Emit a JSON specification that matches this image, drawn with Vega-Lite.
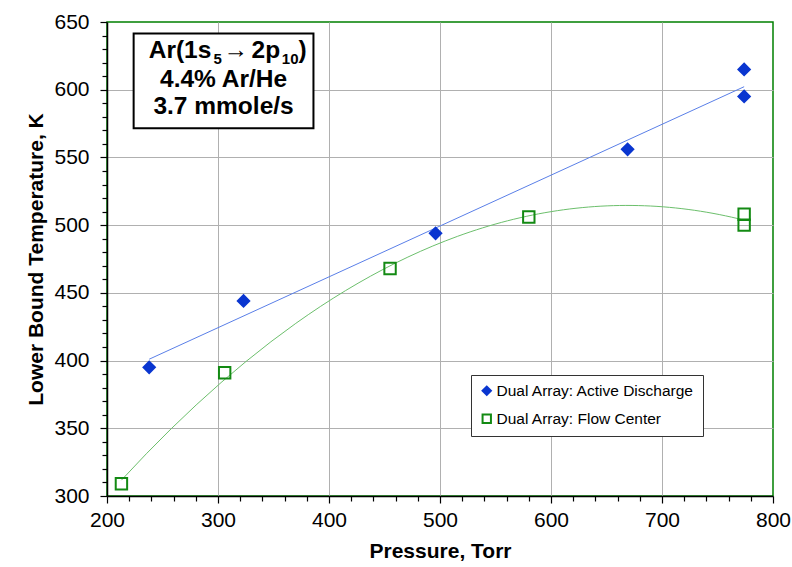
{
  "$schema": "https://vega.github.io/schema/vega-lite/v6.json",
  "width": 666,
  "height": 474,
  "autosize": {"type": "none"},
  "padding": {"left": 107, "top": 22, "right": 19, "bottom": 71},
  "background": "white",
  "config": {
    "font": "Liberation Sans",
    "view": {"stroke": "#008000", "strokeWidth": 1.5}
  },
  "data": {
    "values": [
      {"series": "Dual Array: Active Discharge", "pressure": 238, "temp": 395},
      {"series": "Dual Array: Active Discharge", "pressure": 323, "temp": 444},
      {"series": "Dual Array: Active Discharge", "pressure": 496, "temp": 494},
      {"series": "Dual Array: Active Discharge", "pressure": 669, "temp": 556},
      {"series": "Dual Array: Active Discharge", "pressure": 774, "temp": 595},
      {"series": "Dual Array: Active Discharge", "pressure": 774, "temp": 615},
      {"series": "Dual Array: Flow Center", "pressure": 213, "temp": 309},
      {"series": "Dual Array: Flow Center", "pressure": 306, "temp": 391},
      {"series": "Dual Array: Flow Center", "pressure": 455, "temp": 468},
      {"series": "Dual Array: Flow Center", "pressure": 580, "temp": 506},
      {"series": "Dual Array: Flow Center", "pressure": 774, "temp": 508},
      {"series": "Dual Array: Flow Center", "pressure": 774, "temp": 500}
    ]
  },
  "encoding": {
    "x": {
      "field": "pressure",
      "type": "quantitative",
      "scale": {"domain": [200, 800], "nice": false, "zero": false},
      "axis": {
        "values": [200,220,240,260,280,300,320,340,360,380,400,420,440,460,480,500,520,540,560,580,600,620,640,660,680,700,720,740,760,780,800],
        "labelExpr": "datum.value % 100 === 0 ? datum.label : ''",
        "labelFontSize": 21,
        "labelColor": "black",
        "labelPadding": 6,
        "labelFlush": false,
        "labelOverlap": false,
        "domainColor": "black",
        "domainWidth": 1.5,
        "tickColor": "black",
        "tickWidth": 1.2,
        "tickSize": {"condition": {"test": "datum.value % 100 === 0", "value": 7}, "value": 5},
        "grid": true,
        "gridColor": "#b0b0b0",
        "gridWidth": 1,
        "gridOpacity": {"condition": {"test": "datum.value % 100 === 0 && datum.value < 800", "value": 1}, "value": 0},
        "title": "Pressure, Torr",
        "titleFontSize": 21,
        "titleFontWeight": "bold",
        "titleColor": "black",
        "titlePadding": 10
      }
    },
    "y": {
      "field": "temp",
      "type": "quantitative",
      "scale": {"domain": [300, 650], "nice": false, "zero": false},
      "axis": {
        "values": [300,310,320,330,340,350,360,370,380,390,400,410,420,430,440,450,460,470,480,490,500,510,520,530,540,550,560,570,580,590,600,610,620,630,640,650],
        "labelExpr": "datum.value % 50 === 0 ? datum.label : ''",
        "labelFontSize": 21,
        "labelColor": "black",
        "labelPadding": 11,
        "labelFlush": false,
        "labelOverlap": false,
        "domainColor": "black",
        "domainWidth": 1.5,
        "tickColor": "black",
        "tickWidth": 1.2,
        "tickSize": {"condition": {"test": "datum.value % 50 === 0", "value": 7}, "value": 5},
        "grid": true,
        "gridColor": "#b0b0b0",
        "gridWidth": 1,
        "gridOpacity": {"condition": {"test": "datum.value % 50 === 0 && datum.value < 650", "value": 1}, "value": 0},
        "title": "Lower Bound Temperature, K",
        "titleFontSize": 21,
        "titleFontWeight": "bold",
        "titleColor": "black",
        "titlePadding": 7
      }
    }
  },
  "layer": [
    {
      "transform": [
        {"filter": "datum.series === 'Dual Array: Active Discharge'"},
        {"regression": "temp", "on": "pressure", "method": "linear", "extent": [238, 774]}
      ],
      "mark": {"type": "line", "color": "#5a7fe8", "strokeWidth": 1}
    },
    {
      "transform": [
        {"filter": "datum.series === 'Dual Array: Flow Center'"},
        {"regression": "temp", "on": "pressure", "method": "poly", "order": 2, "extent": [213, 774]}
      ],
      "mark": {"type": "line", "color": "#6cbf6c", "strokeWidth": 1}
    },
    {
      "mark": {"type": "point", "filled": true, "strokeWidth": 2, "opacity": 1, "size": 130},
      "encoding": {
        "shape": {
          "field": "series",
          "type": "nominal",
          "scale": {"domain": ["Dual Array: Active Discharge", "Dual Array: Flow Center"], "range": ["diamond", "square"]},
          "legend": {
            "title": null,
            "orient": "none",
            "legendX": 364,
            "legendY": 353,
            "padding": 8,
            "rowPadding": 10,
            "labelFontSize": 15.5,
            "labelLimit": 400,
            "labelColor": "black",
            "labelOffset": 2,
            "symbolSize": 70,
            "symbolStrokeWidth": 2,
            "strokeColor": "#333333",
            "fillColor": "white",
            "cornerRadius": 0
          }
        },
        "fill": {
          "field": "series",
          "type": "nominal",
          "scale": {"domain": ["Dual Array: Active Discharge", "Dual Array: Flow Center"], "range": ["#0a36d0", "rgba(255,255,255,0)"]},
          "legend": {
            "title": null,
            "orient": "none",
            "legendX": 364,
            "legendY": 353,
            "padding": 8,
            "rowPadding": 10,
            "labelFontSize": 15.5,
            "labelLimit": 400,
            "labelColor": "black",
            "labelOffset": 2,
            "symbolSize": 70,
            "symbolStrokeWidth": 2,
            "strokeColor": "#333333",
            "fillColor": "white",
            "cornerRadius": 0
          }
        },
        "stroke": {
          "field": "series",
          "type": "nominal",
          "scale": {"domain": ["Dual Array: Active Discharge", "Dual Array: Flow Center"], "range": ["#0a36d0", "#138a13"]},
          "legend": {
            "title": null,
            "orient": "none",
            "legendX": 364,
            "legendY": 353,
            "padding": 8,
            "rowPadding": 10,
            "labelFontSize": 15.5,
            "labelLimit": 400,
            "labelColor": "black",
            "labelOffset": 2,
            "symbolSize": 70,
            "symbolStrokeWidth": 2,
            "strokeColor": "#333333",
            "fillColor": "white",
            "cornerRadius": 0
          }
        }
      }
    },
    {
      "transform": [{"filter": "datum.temp === 395"}],
      "mark": {"type": "rect", "fill": "white", "stroke": "black", "strokeWidth": 2},
      "encoding": {
        "x": {"datum": 224},
        "x2": {"datum": 386},
        "y": {"datum": 641.5},
        "y2": {"datum": 571.5}
      }
    },
    {
      "transform": [{"filter": "datum.temp === 395"}],
      "mark": {"type": "text", "text": "Ar(1s", "fontSize": 24.5, "fontWeight": "bold", "fill": "black", "align": "right", "baseline": "alphabetic"},
      "encoding": {"x": {"datum": 294}, "y": {"datum": 623.2}}
    },
    {
      "transform": [{"filter": "datum.temp === 395"}],
      "mark": {"type": "text", "text": "5", "fontSize": 15, "fontWeight": "bold", "fill": "black", "align": "left", "baseline": "alphabetic"},
      "encoding": {"x": {"datum": 296}, "y": {"datum": 618.7}}
    },
    {
      "transform": [{"filter": "datum.temp === 395"}],
      "mark": {"type": "text", "text": "→", "fontSize": 24.5, "fontWeight": "normal", "fill": "black", "align": "center", "baseline": "alphabetic"},
      "encoding": {"x": {"datum": 316}, "y": {"datum": 623.2}}
    },
    {
      "transform": [{"filter": "datum.temp === 395"}],
      "mark": {"type": "text", "text": "2p", "fontSize": 24.5, "fontWeight": "bold", "fill": "black", "align": "right", "baseline": "alphabetic"},
      "encoding": {"x": {"datum": 356}, "y": {"datum": 623.2}}
    },
    {
      "transform": [{"filter": "datum.temp === 395"}],
      "mark": {"type": "text", "text": "10", "fontSize": 15, "fontWeight": "bold", "fill": "black", "align": "left", "baseline": "alphabetic"},
      "encoding": {"x": {"datum": 357.5}, "y": {"datum": 618.7}}
    },
    {
      "transform": [{"filter": "datum.temp === 395"}],
      "mark": {"type": "text", "text": ")", "fontSize": 24.5, "fontWeight": "bold", "fill": "black", "align": "left", "baseline": "alphabetic"},
      "encoding": {"x": {"datum": 372.5}, "y": {"datum": 623.2}}
    },
    {
      "transform": [{"filter": "datum.temp === 395"}],
      "mark": {"type": "text", "text": "4.4% Ar/He", "fontSize": 24.5, "fontWeight": "bold", "fill": "black", "align": "center", "baseline": "alphabetic"},
      "encoding": {"x": {"datum": 305}, "y": {"datum": 602.1}}
    },
    {
      "transform": [{"filter": "datum.temp === 395"}],
      "mark": {"type": "text", "text": "3.7 mmole/s", "fontSize": 24.5, "fontWeight": "bold", "fill": "black", "align": "center", "baseline": "alphabetic"},
      "encoding": {"x": {"datum": 305}, "y": {"datum": 581.9}}
    }
  ]
}
